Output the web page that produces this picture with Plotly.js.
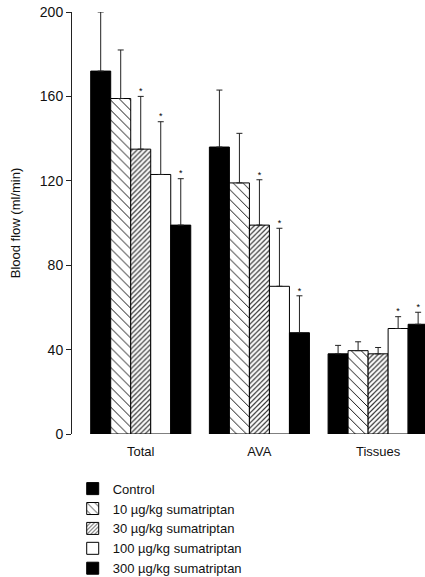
<!DOCTYPE html>
<html>
<head>
<meta charset="utf-8">
<script src="https://cdn.plot.ly/plotly-3.0.1.min.js"></script>
<style>html,body{margin:0;padding:0;background:#fff;}#chart{width:425px;height:577px;}</style>
</head>
<body>
<div id="chart"></div>
<script>
const categories = ["Total", "AVA", "Tissues"];
const seriesNames = ["Control", "10 µg/kg sumatriptan", "30 µg/kg sumatriptan", "100 µg/kg sumatriptan", "300 µg/kg sumatriptan"];
const control = [172, 136, 38];
const suma10 = [159, 119, 39.5];
const suma30 = [135, 99, 38];
const suma100 = [123, 70, 50];
const suma300 = [99, 48, 52];
const errControl = [28, 27, 4];
const err10 = [23, 23.5, 4.2];
const err30 = [25, 21.5, 3];
const err100 = [25, 27.5, 5.6];
const err300 = [22, 17.5, 5.7];
const sig = [
  ["", "", ""],
  ["", "", ""],
  ["*", "*", ""],
  ["*", "*", "*"],
  ["*", "*", "*"]
];
const yTicks = [0, 40, 80, 120, 160, 200];

const values = [control, suma10, suma30, suma100, suma300];
const errs = [errControl, err10, err30, err100, err300];
const styles = [
  {color: "#000", pattern: {shape: ""}},
  {color: "#fff", pattern: {shape: "\\", size: 7, solidity: 0.14, fgcolor: "#111", bgcolor: "#fff", fillmode: "replace"}},
  {color: "#fff", pattern: {shape: "/", size: 3.5, solidity: 0.35, fgcolor: "#333", bgcolor: "#fff", fillmode: "replace"}},
  {color: "#fff", pattern: {shape: ""}},
  {color: "#000", pattern: {shape: ""}}
];
const gap = 0.157;
const traces = [];
values.forEach((v, i) => {
  traces.push({
    type: "bar", name: seriesNames[i], x: categories, y: v,
    marker: {color: styles[i].color, pattern: styles[i].pattern, line: {color: "#000", width: 1}},
    error_y: {type: "data", symmetric: false, array: errs[i], arrayminus: v.map(() => 0), color: "#222", thickness: 1, width: 3},
    hoverinfo: "none"
  });
});
values.forEach((v, i) => {
  traces.push({
    type: "scatter", mode: "text", x: categories, y: v.map((d, j) => d + errs[i][j]),
    text: sig[i], textposition: "top center", textfont: {size: 9, color: "#000"},
    showlegend: false, hoverinfo: "none", cliponaxis: false
  });
});

const layout = {
  width: 425, height: 577,
  margin: {l: 72, r: 0, t: 12, b: 143, autoexpand: false},
  paper_bgcolor: "#fff", plot_bgcolor: "#fff",
  font: {family: "Liberation Sans, Arial, sans-serif", color: "#111", size: 12},
  barmode: "group", bargap: gap, bargroupgap: 0,
  scattermode: "group", scattergap: gap,
  showlegend: true,
  legend: {x: 0.002, y: -0.094, xanchor: "left", yanchor: "top", orientation: "v", font: {size: 13}, tracegroupgap: 0, itemwidth: 30, bgcolor: "rgba(0,0,0,0)"},
  xaxis: {
    range: [-0.579, 2.395], showline: false, ticks: "", showgrid: false, zeroline: false,
    tickfont: {size: 13}, ticklabelstandoff: 8, fixedrange: true, automargin: false
  },
  yaxis: {
    range: [0, 200], tickvals: yTicks, ticktext: yTicks.map(String), showline: true, linecolor: "#222", linewidth: 1,
    ticks: "outside", ticklen: 5, tickcolor: "#222", showgrid: false, zeroline: false, automargin: false,
    tickfont: {size: 14}, title: {text: "Blood flow (ml/min)", font: {size: 13}, standoff: 16}
  }
};
Plotly.newPlot("chart", traces, layout, {displayModeBar: false, staticPlot: true});
</script>
</body>
</html>
